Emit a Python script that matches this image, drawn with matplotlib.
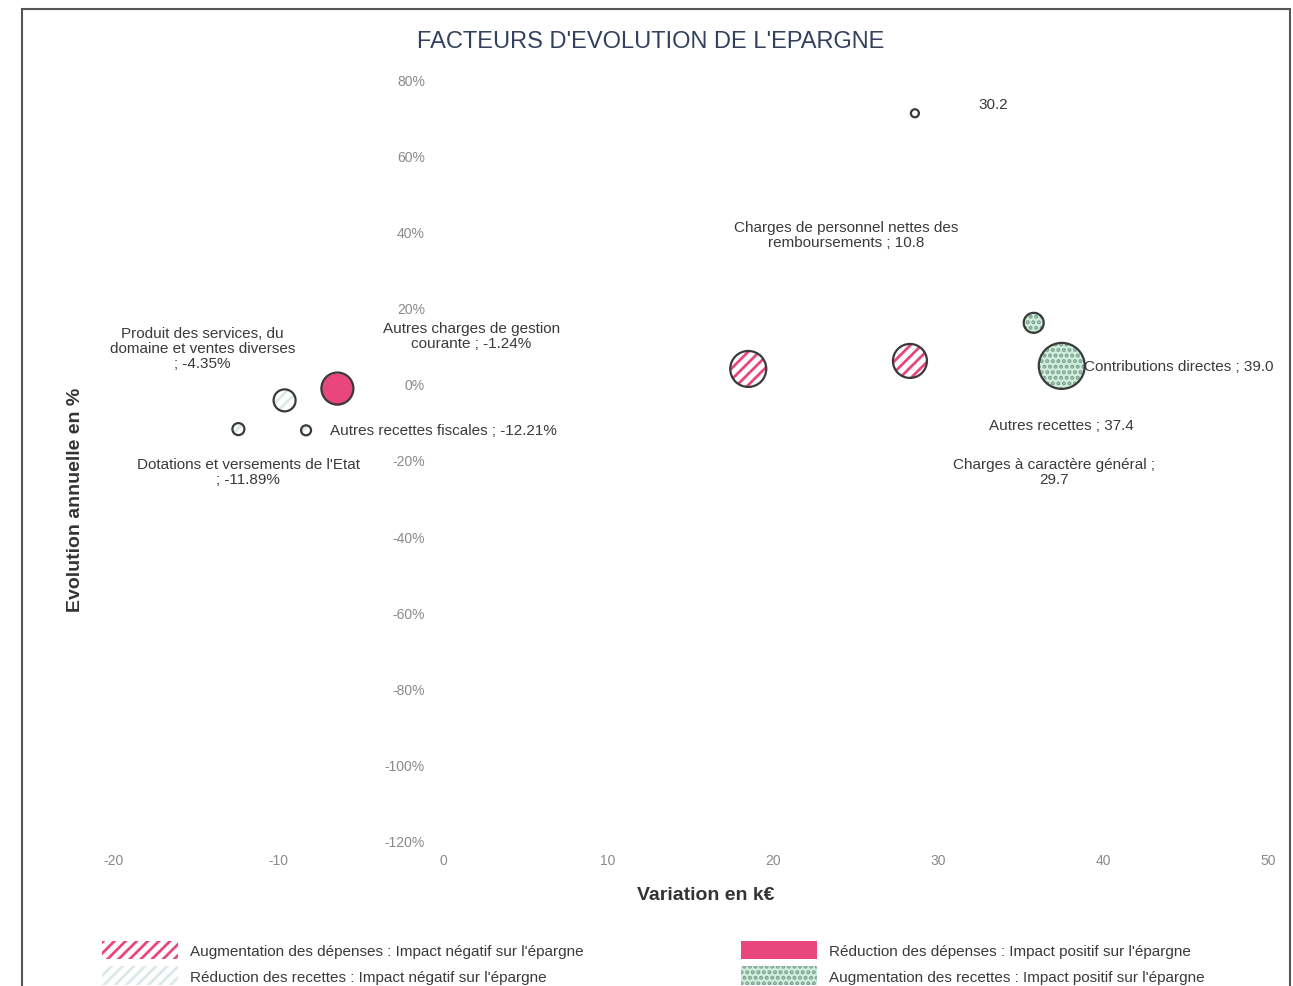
import matplotlib
matplotlib.use("Agg")
import matplotlib.pyplot as plt
from matplotlib.patches import Patch, Rectangle

plt.rcParams['font.family'] = ['Liberation Sans', 'DejaVu Sans']
plt.rcParams['hatch.linewidth'] = 2.0

# ---- data ----
labels = [
    "30.2",
    "Charges de personnel nettes des\nremboursements ; 10.8",
    "Charges à caractère général ;\n29.7",
    "Autres recettes ; 37.4",
    "Contributions directes ; 39.0",
    "Autres charges de gestion\ncourante ; -1.24%",
    "Produit des services, du\ndomaine et ventes diverses\n; -4.35%",
    "Dotations et versements de l'Etat\n; -11.89%",
    "Autres recettes fiscales ; -12.21%",
]
x_var = [28.6, 18.5, 28.3, 35.8, 37.5, -6.4, -9.6, -12.4, -8.3]      # Variation en k€
y_evol = [71.0, 3.9, 6.0, 16.0, 4.7, -1.24, -4.35, -11.89, -12.21]   # Evolution annuelle en %
bubble = [4, 18, 17, 10, 23, 16, 11, 6, 5]                            # bubble radius (px)
category = ["rr", "ad", "ad", "ar", "ar", "rd", "rr", "rr", "rr"]
x_ticks = [-20, -10, 0, 10, 20, 30, 40, 50]
y_ticks = [80, 60, 40, 20, 0, -20, -40, -60, -80, -100, -120]

legend_labels = {
    "ad": "Augmentation des dépenses : Impact négatif sur l'épargne",
    "rr": "Réduction des recettes : Impact négatif sur l'épargne",
    "rd": "Réduction des dépenses : Impact positif sur l'épargne",
    "ar": "Augmentation des recettes : Impact positif sur l'épargne",
}

# ---- styles ----
PINK = "#e8467c"
GREEN = "#cdeedc"
OUT = "#3a3a3a"
styles = {
    "ad": dict(face="white", hatch="///", hcol=PINK),
    "rd": dict(face=PINK, hatch=None, hcol=PINK),
    "rr": dict(face="white", hatch="///", hcol="#dce9e9"),
    "ar": dict(face=GREEN, hatch="...", hcol="#7f9f90"),
}
# label offsets in px (dx, dy up), alignment
label_pos = [
    (64, 9, "left"), (98, 134, "center"), (144, -111, "center"), (28, -102, "center"),
    (22, 0, "left"), (134, 53, "center"), (-82, 52, "center"), (10, -42, "center"),
    (24, 0, "left"),
]

W, H = 1293, 987
fig = plt.figure(figsize=(W / 100, H / 100), dpi=100)
fig.patch.set_facecolor("white")

ax_left, ax_right, ax_top, ax_bot = 113, 1268, 80, 842
ax = fig.add_axes([ax_left / W, 1 - ax_bot / H, (ax_right - ax_left) / W, (ax_bot - ax_top) / H])
ax.set_xlim(-20, 50)
ax.set_ylim(-120, 80)
for s in ax.spines.values():
    s.set_visible(False)
ax.spines['left'].set_position(('data', 0))
ax.set_xticks(x_ticks)
ax.set_xticklabels([str(v) for v in x_ticks])
ax.set_yticks(y_ticks)
ax.set_yticklabels([f"{v}%" for v in y_ticks])
ax.tick_params(axis='both', length=0, labelsize=10, labelcolor="#8a8a8a")
ax.tick_params(axis='y', pad=13)
ax.tick_params(axis='x', pad=9)
ax.set_facecolor("none")

for i in range(len(x_var)):
    st = styles[category[i]]
    s = (2 * bubble[i] * 0.72) ** 2
    ax.scatter([x_var[i]], [y_evol[i]], s=s, facecolor=st["face"], edgecolor=st["hcol"],
               hatch=st["hatch"], linewidth=0, zorder=3)
    ax.scatter([x_var[i]], [y_evol[i]], s=s, facecolor="none", edgecolor=OUT,
               linewidth=1.6, zorder=4)
    dx, dy, ha = label_pos[i]
    ax.annotate(labels[i], (x_var[i], y_evol[i]), xytext=(dx * 0.72, dy * 0.72),
                textcoords="offset points", ha=ha, va="center", fontsize=11,
                color="#3a3a3a", linespacing=1.1, zorder=5)

fig.text(651 / W, 1 - 42 / H, "FACTEURS D'EVOLUTION DE L'EPARGNE", ha="center", va="center",
         fontsize=17, color="#33415e")
fig.text(706 / W, 1 - 896 / H, "Variation en k€", ha="center", va="center",
         fontsize=14, fontweight="bold", color="#333333")
fig.text(75 / W, 1 - 500 / H, "Evolution annuelle en %", ha="center", va="center",
         rotation=90, fontsize=14, fontweight="bold", color="#333333")

def handle(cat):
    st = styles[cat]
    return Patch(facecolor=st["face"], edgecolor=st["hcol"], hatch=st["hatch"], linewidth=0)

for cats, xpos in ((["ad", "rr"], 94), (["rd", "ar"], 733)):
    fig.legend([handle(c) for c in cats], [legend_labels[c] for c in cats],
               loc="upper left", bbox_to_anchor=(xpos / W, 1 - 934 / H),
               frameon=False, fontsize=11, handlelength=5.0, handleheight=1.45,
               labelspacing=0.5, handletextpad=0.8, borderpad=0, labelcolor="#3a3a3a")

frame = Rectangle((22 / W, -0.05), (1290 - 22) / W, 1 - 10 / H + 0.05, transform=fig.transFigure,
                  fill=False, edgecolor="#555555", linewidth=1.5, clip_on=False)
fig.patches.append(frame)

fig.savefig("out.png", dpi=100, facecolor="white")
